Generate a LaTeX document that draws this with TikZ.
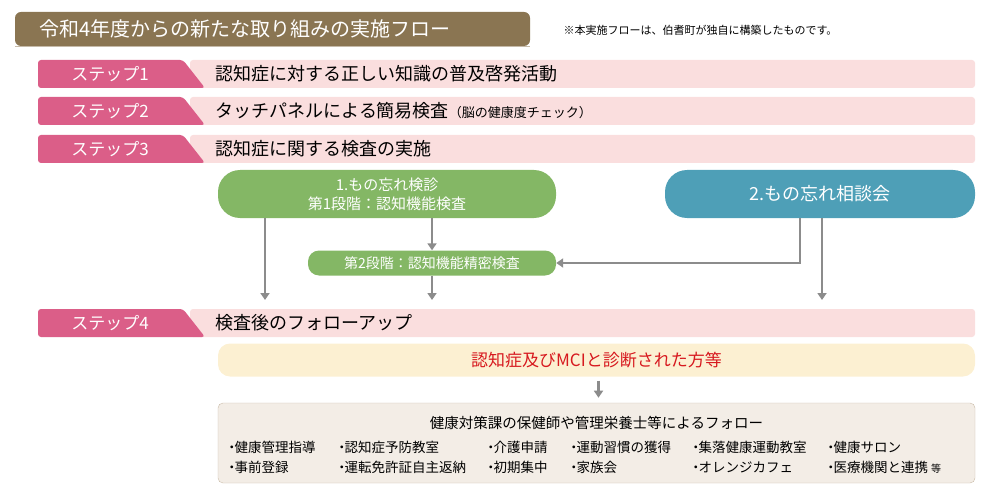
\documentclass[tikz,border=0pt]{standalone}
\usepackage{fontspec}
\setmainfont{Noto Sans CJK JP}
\usetikzlibrary{arrows.meta}
\definecolor{brownbar}{HTML}{8A7552}
\definecolor{steppink}{HTML}{DB5E88}
\definecolor{lightpink}{HTML}{FADEDE}
\definecolor{greenbox}{HTML}{84B765}
\definecolor{bluebox}{HTML}{4E9FB7}
\definecolor{yellowbox}{HTML}{FCF0D2}
\definecolor{beigebox}{HTML}{F3EDE6}
\definecolor{beigeline}{HTML}{C9BBA8}
\definecolor{arrowgray}{HTML}{8C8C8C}
\definecolor{redtext}{HTML}{D7191F}
\tikzset{
  band/.style={fill=lightpink, rounded corners=3pt},
  steplabel/.style={fill=steppink, rounded corners=3pt},
  bandtext/.style={anchor=west, font=\fontsize{18}{18}\selectfont},
  itemtext/.style={anchor=west, inner xsep=0pt, font=\fontsize{13.5}{13.5}\selectfont},
  flow/.style={draw=arrowgray, line width=2.2pt, -{Triangle[length=7pt,width=9pt]}}
}
\begin{document}
\begin{tikzpicture}[x=1pt, y=-1pt]
    \useasboundingbox (0,0) rectangle (1000,497);
    % Title
    \fill [brownbar, rounded corners=6pt] (15,46) -- (15,12) -- (530,12) -- (530,46) -- cycle;
    \draw [brownbar!50, line width=1pt] (15,47) -- (530,47);
    \node (title) [anchor=west, text=white, font=\fontsize{20}{20}\selectfont] at (36,29) {令和4年度からの新たな取り組みの実施フロー};
    \node (note) [anchor=west, font=\fontsize{11}{11}\selectfont] at (560,30) {※本実施フローは、伯耆町が独自に構築したものです。};

    % Steps
    \foreach \y/\lbl in {60/1, 97/2, 135/3, 309/4} {
        \fill [band] (190,\y) rectangle (975,\y+28);
        \fill [steplabel] (38,\y) -- (183,\y) -- (205,\y+28) -- (38,\y+28) -- cycle;
        \node [text=white, font=\fontsize{17}{17}\selectfont] at (110,\y+14) {ステップ\lbl};
    }
    \node (s1) [bandtext] at (212,74) {認知症に対する正しい知識の普及啓発活動};
    \node (s2) [bandtext] at (212,111) {タッチパネルによる簡易検査{\fontsize{13}{13}\selectfont（脳の健康度チェック）}};
    \node (s3) [bandtext] at (212,149) {認知症に関する検査の実施};
    \node (s4) [bandtext] at (212,323) {検査後のフォローアップ};

    % Step 3 boxes
    \node (check) [fill=greenbox, rounded corners=22pt, minimum width=338pt, minimum height=48pt, text=white, align=center, font=\fontsize{15}{19}\selectfont] at (387,194) {1.もの忘れ検診\\第1段階：認知機能検査};
    \node (consult) [fill=bluebox, rounded corners=22pt, minimum width=310pt, minimum height=48pt, text=white, font=\fontsize{18}{18}\selectfont] at (820,194) {2.もの忘れ相談会};
    \node (detail) [fill=greenbox, rounded corners=11pt, minimum width=248pt, minimum height=25pt, text=white, font=\fontsize{14}{14}\selectfont] at (432,263) {第2段階：認知機能精密検査};

    \coordinate (c1) at (265,300);
    \coordinate (c2) at (432,300);
    \coordinate (c3) at (822,300);
    \draw [flow] (265,218) -- (c1);
    \draw [flow] (432,218) -- (detail.north);
    \draw [flow] (detail.south) -- (c2);
    \draw [flow] (800,218) |- (detail.east);
    \draw [flow] (822,218) -- (c3);

    % Step 4 boxes
    \node (mci) [fill=yellowbox, rounded corners=12pt, minimum width=757pt, minimum height=33pt, text=redtext, font=\fontsize{17}{17}\selectfont] at (596.5,360) {認知症及びMCIと診断された方等};
    \node (follow) [fill=beigebox, draw=beigeline, rounded corners=5pt, minimum width=757pt, minimum height=80pt] at (596.5,443) {};
    \draw [flow] (mci.south) ++(2,4) -- ++(0,17);
    \node (ftitle) [font=\fontsize{14.5}{14.5}\selectfont] at (596.5,423) {健康対策課の保健師や管理栄養士等によるフォロー};
    \foreach \x/\a/\b in {228/健康管理指導/事前登録, 338/認知症予防教室/運転免許証自主返納, 487/介護申請/初期集中, 570/運動習慣の獲得/家族会, 692/集落健康運動教室/オレンジカフェ, 827/健康サロン/医療機関と連携 {\fontsize{10}{10}\selectfont 等}} {
        \node [itemtext] at (\x,447) {\kern-3pt・\kern-4pt\a};
        \node [itemtext] at (\x,467) {\kern-3pt・\kern-4pt\b};
    }
\end{tikzpicture}
\end{document}
